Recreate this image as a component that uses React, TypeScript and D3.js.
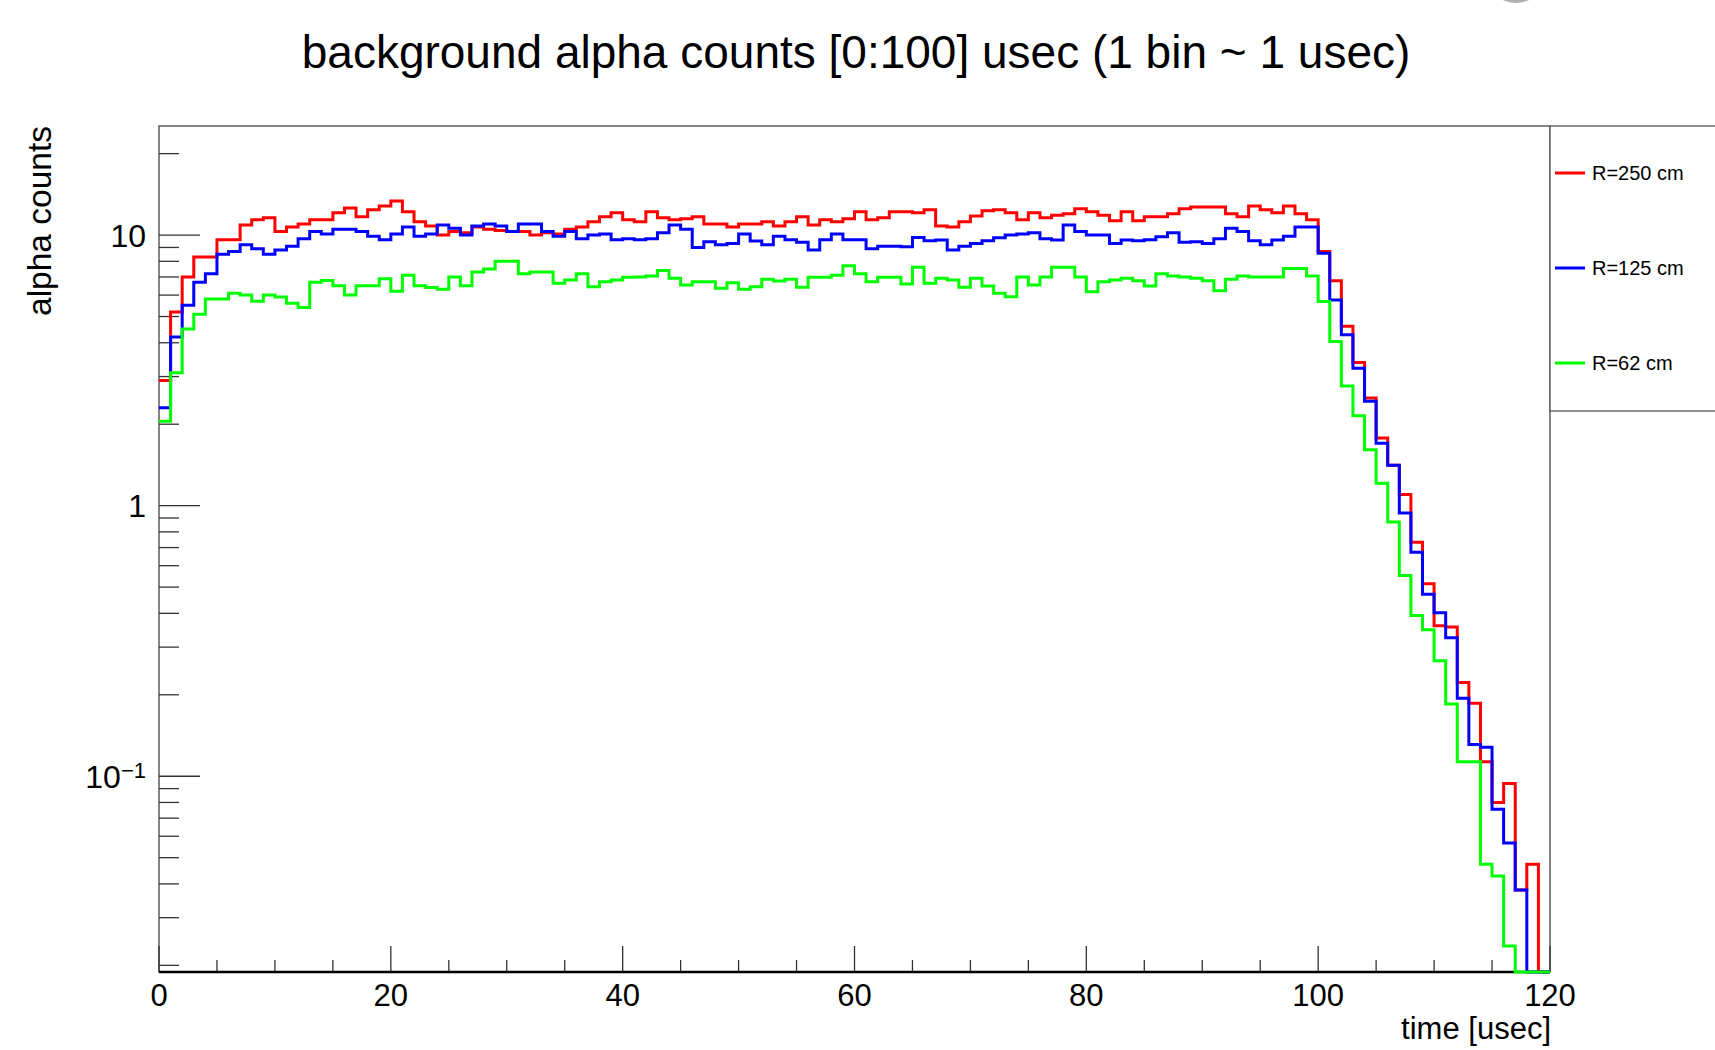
import React, { useEffect, useRef } from 'react';
import * as d3 from 'd3';

// one bin per usec, 120 bins
const binStart = d3.range(0, 120);

// bin contents (0 = empty bin)
const countsR250 = [
  2.9, 5.2, 7.0, 8.3, 8.3, 9.6, 9.6, 10.9, 11.4, 11.6,
  10.3, 10.7, 11.0, 11.4, 11.4, 12.1, 12.6, 11.7, 12.4, 12.8,
  13.35, 12.2, 11.2, 10.8, 10.0, 10.3, 10.2, 10.7, 10.5, 10.4,
  10.3, 10.3, 10.0, 10.2, 10.1, 10.5, 10.7, 11.2, 11.7, 12.1,
  11.4, 11.2, 12.2, 11.6, 11.4, 11.5, 11.7, 11.0, 11.0, 10.7,
  11.0, 11.0, 11.2, 10.8, 11.2, 11.7, 10.9, 11.4, 11.2, 11.5,
  12.2, 11.4, 11.6, 12.2, 12.2, 12.1, 12.4, 10.8, 10.7, 11.2,
  11.75, 12.3, 12.4, 12.1, 11.4, 12.1, 11.6, 11.85, 12.0, 12.5,
  12.2, 11.85, 11.3, 12.2, 11.3, 11.7, 11.7, 12.0, 12.5, 12.7,
  12.7, 12.7, 12.0, 11.7, 12.8, 12.4, 12.1, 12.8, 12.0, 11.4,
  8.7, 6.78, 4.6, 3.38, 2.5, 1.78, 1.41, 1.1, 0.733, 0.515,
  0.36, 0.356, 0.222, 0.186, 0.113, 0.08, 0.094, 0.038, 0.0473, 0
];

const countsR125 = [
  2.3, 4.2, 5.5, 6.7, 7.2, 8.5, 8.7, 9.2, 8.9, 8.5,
  8.8, 9.1, 9.7, 10.3, 10.1, 10.5, 10.5, 10.3, 9.9, 9.6,
  10.1, 10.7, 9.9, 10.1, 10.9, 10.6, 10.0, 10.8, 11.0, 10.8,
  10.3, 11.0, 11.0, 10.3, 9.9, 10.3, 9.7, 10.0, 10.1, 9.6,
  9.7, 9.6, 9.7, 10.2, 10.9, 10.5, 9.0, 9.45, 9.2, 9.3,
  10.1, 9.5, 9.2, 9.9, 9.6, 9.4, 8.8, 9.6, 10.1, 9.6,
  9.6, 8.9, 9.1, 9.1, 9.06, 9.8, 9.53, 9.58, 8.8, 9.1,
  9.3, 9.53, 9.77, 10.0, 10.1, 10.2, 9.7, 9.58, 10.9, 10.3,
  10.0, 10.0, 9.3, 9.58, 9.53, 9.6, 9.86, 10.2, 9.4, 9.45,
  9.3, 9.7, 10.6, 10.3, 9.53, 9.2, 9.58, 9.9, 10.7, 10.7,
  8.56, 5.76, 4.28, 3.22, 2.43, 1.7, 1.41, 0.94, 0.673, 0.47,
  0.402, 0.325, 0.194, 0.131, 0.128, 0.0755, 0.0566, 0.038, 0, 0
];

const countsR62 = [
  2.05, 3.1, 4.5, 5.1, 5.8, 5.8, 6.1, 6.0, 5.7, 6.0,
  5.9, 5.6, 5.4, 6.7, 6.8, 6.5, 6.0, 6.5, 6.5, 6.9,
  6.2, 7.1, 6.5, 6.4, 6.3, 7.0, 6.5, 7.3, 7.5, 8.0,
  8.0, 7.2, 7.3, 7.3, 6.63, 6.82, 7.2, 6.44, 6.72, 6.82,
  6.98, 7.0, 7.06, 7.4, 6.92, 6.54, 6.72, 6.72, 6.36, 6.67,
  6.3, 6.44, 6.86, 6.76, 6.86, 6.41, 6.98, 6.98, 7.1, 7.7,
  7.2, 6.72, 6.98, 6.98, 6.6, 7.6, 6.63, 6.92, 6.82, 6.41,
  6.92, 6.48, 6.1, 5.92, 7.0, 6.54, 7.0, 7.6, 7.6, 7.0,
  6.18, 6.72, 6.82, 6.92, 6.78, 6.48, 7.2, 7.06, 7.0, 6.92,
  6.78, 6.22, 6.86, 7.06, 7.0, 7.0, 7.0, 7.53, 7.53, 7.06,
  5.68, 4.04, 2.77, 2.15, 1.61, 1.21, 0.87, 0.552, 0.393, 0.348,
  0.267, 0.185, 0.113, 0.113, 0.0473, 0.0428, 0.0236, 0, 0, 0
];

const seriesLabels = ['R=250 cm', 'R=125 cm', 'R=62 cm'];
const seriesColors = ['#ff0000', '#0000ff', '#00ff00'];
const seriesCounts = [countsR250, countsR125, countsR62];

const xMajorTicks = [0, 20, 40, 60, 80, 100, 120];
const yLabelTicks = [10, 1, 0.1];

const title = 'background alpha counts [0:100] usec (1 bin ~ 1 usec)';
const xTitle = 'time [usec]';
const yTitle = 'alpha counts';

export default function App() {
    const ref = useRef<SVGSVGElement>(null);
    const width = 1715;
    const height = 1050;
    const frame = { left: 159, right: 1550, top: 126, bottom: 972 };
    const yMin = 0.0189;
    const yMax = 25.3;
    const font = '"Liberation Sans", Arial, Helvetica, sans-serif';

    useEffect(() => {
        const svg = d3.select(ref.current);
        svg.selectAll('*').remove();

        const x = d3.scaleLinear().domain([0, 120]).range([frame.left, frame.right]);
        const y = d3.scaleLog().domain([yMin, yMax]).range([frame.bottom, frame.top]);

        svg.append('rect')
            .attr('width', width)
            .attr('height', height)
            .attr('fill', '#ffffff');

        // greyish blob cut off at the top right corner
        svg.append('ellipse')
            .attr('cx', 1516).attr('cy', -22)
            .attr('rx', 28).attr('ry', 25)
            .attr('fill', '#b0b0b0');

        // title
        svg.append('text')
            .attr('x', 856)
            .attr('y', 68)
            .attr('text-anchor', 'middle')
            .style('font-family', font)
            .style('font-size', '46px')
            .attr('fill', '#000')
            .text(title);

        // frame
        svg.append('rect')
            .attr('x', frame.left)
            .attr('y', frame.top)
            .attr('width', frame.right - frame.left)
            .attr('height', frame.bottom - frame.top)
            .attr('fill', 'none')
            .attr('stroke', '#444')
            .attr('stroke-width', 1.3);

        // y axis ticks (log)
        const yTicks = y.ticks();
        const isDecade = (v: number) => Math.abs(Math.log10(v) - Math.round(Math.log10(v))) < 1e-6;
        svg.append('g').selectAll('line')
            .data(yTicks)
            .enter().append('line')
            .attr('x1', frame.left)
            .attr('x2', (d) => frame.left + (isDecade(d) ? 41 : 20))
            .attr('y1', (d) => y(d))
            .attr('y2', (d) => y(d))
            .attr('stroke', '#333')
            .attr('stroke-width', 1.3);

        yLabelTicks.forEach((v) => {
            const t = svg.append('text')
                .attr('x', 146)
                .attr('y', y(v))
                .attr('dy', '0.36em')
                .attr('text-anchor', 'end')
                .style('font-family', font)
                .style('font-size', '32px')
                .attr('fill', '#000');
            const exp = Math.round(Math.log10(v));
            if (exp === 1) t.text('10');
            else if (exp === 0) t.text('1');
            else {
                t.append('tspan').text('10');
                t.append('tspan')
                    .attr('dy', '-0.45em')
                    .style('font-size', '22px')
                    .text('\u2212' + Math.abs(exp));
            }
        });

        // x axis ticks
        const xTicks = x.ticks(24);
        svg.append('g').selectAll('line')
            .data(xTicks)
            .enter().append('line')
            .attr('x1', (d) => x(d))
            .attr('x2', (d) => x(d))
            .attr('y1', frame.bottom)
            .attr('y2', (d) => frame.bottom - (d % 20 === 0 ? 26 : 12))
            .attr('stroke', '#333')
            .attr('stroke-width', 1.3);

        svg.append('line')
            .attr('x1', frame.left)
            .attr('x2', frame.right)
            .attr('y1', frame.bottom)
            .attr('y2', frame.bottom)
            .attr('stroke', '#000')
            .attr('stroke-width', 2.6);

        svg.append('g').selectAll('text')
            .data(xMajorTicks)
            .enter().append('text')
            .attr('x', (d) => x(d))
            .attr('y', 1006)
            .attr('text-anchor', 'middle')
            .style('font-family', font)
            .style('font-size', '31px')
            .attr('fill', '#000')
            .text((d) => d);

        // axis titles
        svg.append('text')
            .attr('x', frame.right + 1)
            .attr('y', 1039)
            .attr('text-anchor', 'end')
            .style('font-family', font)
            .style('font-size', '31px')
            .attr('fill', '#000')
            .text(xTitle);
        svg.append('text')
            .attr('transform', 'translate(51,' + frame.top + ') rotate(-90)')
            .attr('text-anchor', 'end')
            .style('font-family', font)
            .style('font-size', '33.5px')
            .attr('fill', '#000')
            .text(yTitle);

        // histograms drawn as steps, empty bins sit on the frame bottom
        const step = d3.line<[number, number]>()
            .x((d) => x(d[0]))
            .y((d) => y(Math.max(d[1], yMin)))
            .curve(d3.curveStepAfter);
        seriesCounts.forEach((counts, k) => {
            const pts: [number, number][] = binStart.map((b, i) => [b, counts[i]]);
            pts.push([120, counts[counts.length - 1]]);
            svg.append('path')
                .datum(pts)
                .attr('d', step)
                .attr('fill', 'none')
                .attr('stroke', seriesColors[k])
                .attr('stroke-width', 3)
                .attr('stroke-linejoin', 'miter');
        });

        // legend
        const legend = svg.append('g');
        legend.append('rect')
            .attr('x', frame.right)
            .attr('y', frame.top)
            .attr('width', 200)
            .attr('height', 285)
            .attr('fill', '#fff')
            .attr('stroke', '#555')
            .attr('stroke-width', 1.3);
        const legendY = [173, 268, 363];
        seriesLabels.forEach((label, k) => {
            legend.append('line')
                .attr('x1', 1555)
                .attr('x2', 1585)
                .attr('y1', legendY[k])
                .attr('y2', legendY[k])
                .attr('stroke', seriesColors[k])
                .attr('stroke-width', 3);
            legend.append('text')
                .attr('x', 1592)
                .attr('y', legendY[k])
                .attr('dy', '0.36em')
                .style('font-family', font)
                .style('font-size', '20px')
                .attr('fill', '#000')
                .text(label);
        });
    }, []);

    return (
        <svg
            ref={ref}
            width={width}
            height={height}
            style={{ position: 'absolute', left: 0, top: 0, display: 'block' }}
        />
    );
}
